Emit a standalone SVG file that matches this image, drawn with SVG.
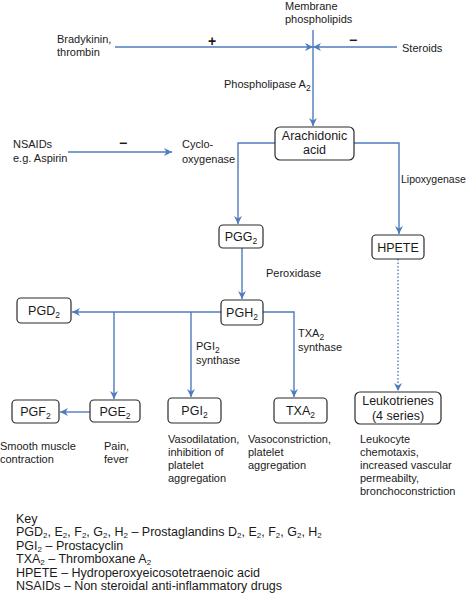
<svg xmlns="http://www.w3.org/2000/svg" width="469" height="600" viewBox="0 0 469 600">
<style>
text{font-family:"Liberation Sans",Arial,sans-serif;fill:#1a1a1a}
.t{font-size:11px}
.b{font-size:12.5px;text-anchor:middle}
.k{font-size:12.5px}
.s{font-size:8.5px}
.ks{font-size:8px}
.box{fill:#fff;stroke:#2a2a2a;stroke-width:1.2}
.c{fill:none;stroke:#4f7bbd;stroke-width:1.4}
.d{fill:none;stroke:#4f7bbd;stroke-width:1.4;stroke-dasharray:1.5,2}
.sign{font-size:14px;font-weight:bold;text-anchor:middle}
</style>
<defs>
<marker id="a" viewBox="0 0 10 10" refX="10" refY="5" markerWidth="9" markerHeight="8" markerUnits="userSpaceOnUse" orient="auto">
<path d="M0,0 L10,5 L0,10 L3,5 z" fill="#4f7bbd"/>
</marker>
</defs>
<g id="connectors">
<path class="c" d="M115,47 H313" marker-end="url(#a)"/>
<path class="c" d="M397,47 H313" marker-end="url(#a)"/>
<path class="c" d="M313,30 V126" marker-end="url(#a)"/>
<path class="c" d="M68,152 H172" marker-end="url(#a)"/>
<path class="c" d="M275,143 H238 V224" marker-end="url(#a)"/>
<path class="c" d="M354,143 H399 V234" marker-end="url(#a)"/>
<path class="c" d="M242,248 V299" marker-end="url(#a)"/>
<path class="c" d="M221,312 H72" marker-end="url(#a)"/>
<path class="c" d="M114,312 V399" marker-end="url(#a)"/>
<path class="c" d="M191,312 V397" marker-end="url(#a)"/>
<path class="c" d="M263,312 H294 V397" marker-end="url(#a)"/>
<path class="c" d="M90,412 H60" marker-end="url(#a)"/>
<path class="d" d="M398,259 V391" marker-end="url(#a)"/>
</g>
<g id="labels">
<text class="t" x="285" y="10">Membrane</text>
<text class="t" x="285" y="23">phospholipids</text>
<text class="t" x="57" y="43">Bradykinin,</text>
<text class="t" x="57" y="56">thrombin</text>
<text class="sign" x="212" y="46">+</text>
<text class="sign" x="353" y="45">−</text>
<text class="t" x="402" y="52">Steroids</text>
<text class="t" x="224" y="88">Phospholipase A<tspan class="s" dy="3">2</tspan></text>
<text class="t" x="13" y="148">NSAIDs</text>
<text class="t" x="13" y="162">e.g. Aspirin</text>
<text class="sign" x="123" y="148">−</text>
<text class="t" x="182" y="148">Cyclo-</text>
<text class="t" x="182" y="163">oxygenase</text>
<text class="t" x="401" y="183" style="font-size:10.5px">Lipoxygenase</text>
<text class="t" x="266" y="277">Peroxidase</text>
<text class="t" x="196" y="350">PGI<tspan class="s" dy="3">2</tspan></text>
<text class="t" x="196" y="364">synthase</text>
<text class="t" x="298" y="337">TXA<tspan class="s" dy="3">2</tspan></text>
<text class="t" x="298" y="351">synthase</text>
</g>
<g id="n-aa"><rect class="box" x="275" y="127" width="79" height="33" rx="5"/><text class="b" x="314.5" y="140">Arachidonic</text><text class="b" x="314.5" y="154">acid</text></g>
<g id="n-pgg2"><rect class="box" x="219" y="225" width="44" height="23" rx="4"/><text class="b" x="241" y="241">PGG<tspan class="s" dy="3">2</tspan></text></g>
<g id="n-hpete"><rect class="box" x="372" y="235" width="52" height="24" rx="4"/><text class="b" x="398" y="251.5">HPETE</text></g>
<g id="n-pgh2"><rect class="box" x="221" y="300" width="42" height="25" rx="4"/><text class="b" x="242" y="316.5">PGH<tspan class="s" dy="3">2</tspan></text></g>
<g id="n-pgd2"><rect class="box" x="17" y="298" width="54" height="25" rx="4"/><text class="b" x="44" y="315">PGD<tspan class="s" dy="3">2</tspan></text></g>
<g id="n-pgf2"><rect class="box" x="12" y="400" width="47" height="23" rx="4"/><text class="b" x="35.5" y="416">PGF<tspan class="s" dy="3">2</tspan></text></g>
<g id="n-pge2"><rect class="box" x="90" y="400" width="50" height="22" rx="4"/><text class="b" x="115" y="415.5">PGE<tspan class="s" dy="3">2</tspan></text></g>
<g id="n-pgi2"><rect class="box" x="168" y="398" width="53" height="25" rx="4"/><text class="b" x="194.5" y="415">PGI<tspan class="s" dy="3">2</tspan></text></g>
<g id="n-txa2"><rect class="box" x="274" y="398" width="53" height="25" rx="4"/><text class="b" x="300.5" y="415">TXA<tspan class="s" dy="3">2</tspan></text></g>
<g id="n-lt"><rect class="box" x="355" y="392" width="86" height="32" rx="5"/><text class="b" x="398" y="405">Leukotrienes</text><text class="b" x="398" y="419.5">(4 series)</text></g>
<g id="effects">
<text class="t" x="0" y="450">Smooth muscle</text>
<text class="t" x="0" y="463">contraction</text>
<text class="t" x="104" y="450">Pain,</text>
<text class="t" x="104" y="463">fever</text>
<text class="t" x="168" y="443">Vasodilatation,</text>
<text class="t" x="168" y="456">inhibition of</text>
<text class="t" x="168" y="469">platelet</text>
<text class="t" x="168" y="482">aggregation</text>
<text class="t" x="248" y="443">Vasoconstriction,</text>
<text class="t" x="248" y="456">platelet</text>
<text class="t" x="248" y="469">aggregation</text>
<text class="t" x="360" y="443">Leukocyte</text>
<text class="t" x="360" y="456">chemotaxis,</text>
<text class="t" x="360" y="469">increased vascular</text>
<text class="t" x="360" y="482">permeabilty,</text>
<text class="t" x="360" y="495">bronchoconstriction</text>
</g>
<g id="key">
<text class="k" x="16" y="523">Key</text>
<text class="k" x="16" y="536">PGD<tspan class="ks" dy="2">2</tspan><tspan dy="-2">, E</tspan><tspan class="ks" dy="2">2</tspan><tspan dy="-2">, F</tspan><tspan class="ks" dy="2">2</tspan><tspan dy="-2">, G</tspan><tspan class="ks" dy="2">2</tspan><tspan dy="-2">, H</tspan><tspan class="ks" dy="2">2</tspan><tspan dy="-2"> – Prostaglandins D</tspan><tspan class="ks" dy="2">2</tspan><tspan dy="-2">, E</tspan><tspan class="ks" dy="2">2</tspan><tspan dy="-2">, F</tspan><tspan class="ks" dy="2">2</tspan><tspan dy="-2">, G</tspan><tspan class="ks" dy="2">2</tspan><tspan dy="-2">, H</tspan><tspan class="ks" dy="2">2</tspan></text>
<text class="k" x="16" y="549.5">PGI<tspan class="ks" dy="2">2</tspan><tspan dy="-2"> – Prostacyclin</tspan></text>
<text class="k" x="16" y="563">TXA<tspan class="ks" dy="2">2</tspan><tspan dy="-2"> – Thromboxane A</tspan><tspan class="ks" dy="2">2</tspan></text>
<text class="k" x="16" y="576.5">HPETE – Hydroperoxyeicosotetraenoic acid</text>
<text class="k" x="16" y="590">NSAIDs – Non steroidal anti-inflammatory drugs</text>
</g>
</svg>
